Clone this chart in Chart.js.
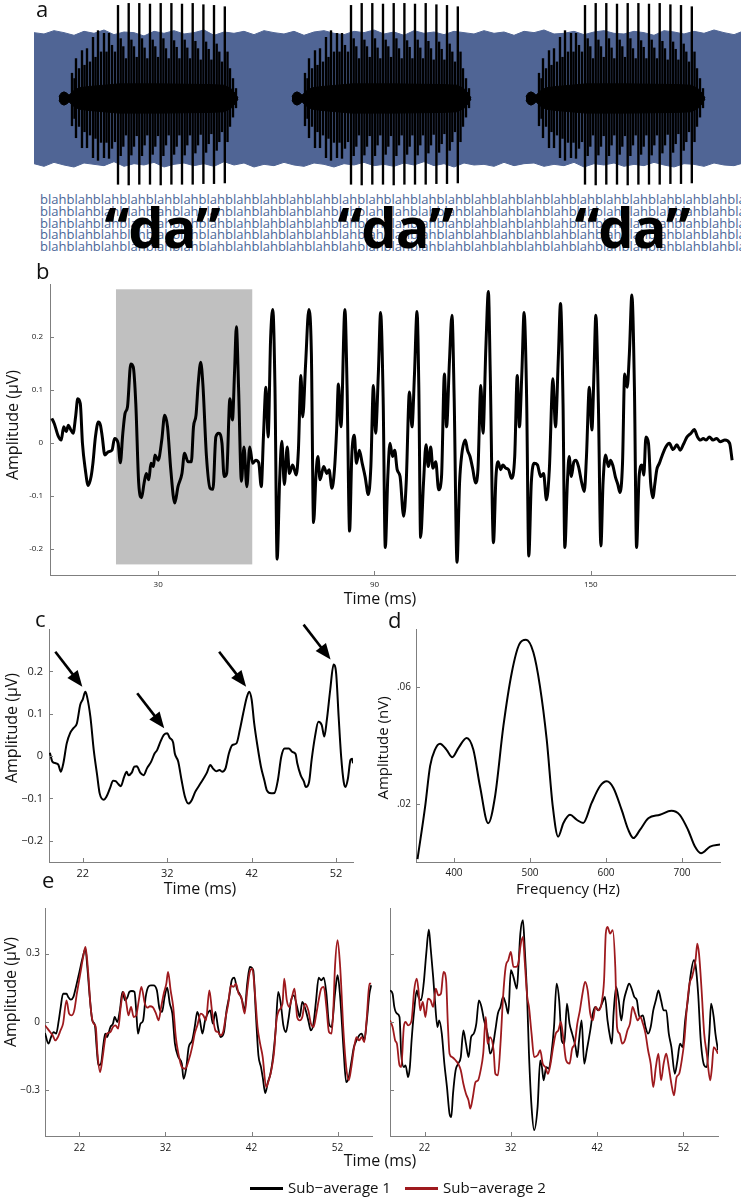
<!DOCTYPE html>
<html><head><meta charset="utf-8">
<script src="https://cdn.jsdelivr.net/npm/chart.js@4.4.1/dist/chart.umd.min.js"></script>
<style>
body{margin:0;background:#fff;}
#fig{position:relative;width:741px;height:1200px;overflow:hidden;font-family:'Open Sans',sans-serif;color:#111;}
.cv{position:absolute;}
.t{position:absolute;white-space:nowrap;line-height:1;}
.lab{font-size:22px;}
.rot{position:absolute;white-space:nowrap;color:#111;transform-origin:50% 50%;}
.ctr{transform:translate(-50%,-50%);}
.blah{position:absolute;left:40px;top:194px;width:701px;overflow:hidden;font-size:13px;line-height:11.8px;color:#4a6698;white-space:nowrap;}
.da{font-size:56px;font-weight:700;color:#000;transform:translateX(-50%);letter-spacing:-1px;}
.lg{position:absolute;height:2.5px;width:33px;}
</style></head><body>
<div id="fig">
  <canvas id="ca" class="cv" style="left:0;top:0" width="741" height="190"></canvas>
  <div class="blah" id="blah"></div>
  <div class="t da" style="left:162px;top:198px">“da”</div>
  <div class="t da" style="left:395px;top:198px">“da”</div>
  <div class="t da" style="left:632px;top:198px">“da”</div>
  <canvas id="cb" class="cv" style="left:0;top:270px" width="741" height="330"></canvas>
  <canvas id="cc" class="cv" style="left:0;top:600px" width="370" height="290"></canvas>
  <canvas id="cd" class="cv" style="left:370px;top:600px" width="371" height="290"></canvas>
  <canvas id="ce1" class="cv" style="left:0;top:890px" width="380" height="280"></canvas>
  <canvas id="ce2" class="cv" style="left:380px;top:890px" width="361" height="280"></canvas>

  <div class="t lab" style="left:36px;top:-3px">a</div>
  <div class="t lab" style="left:36px;top:259px">b</div>
  <div class="t lab" style="left:35px;top:607px">c</div>
  <div class="t lab" style="left:388px;top:608px">d</div>
  <div class="t lab" style="left:42px;top:868px">e</div>

  <div class="rot" data-cx="12" data-cy="425" style="font-size:16px">Amplitude (μV)</div>
  <div class="t ctr" style="left:380px;top:598px;font-size:16px">Time (ms)</div>
  <div class="rot" data-cx="11" data-cy="728" style="font-size:16px">Amplitude (μV)</div>
  <div class="t ctr" style="left:200px;top:888px;font-size:16px">Time (ms)</div>
  <div class="rot" data-cx="382" data-cy="748" style="font-size:15px">Amplitude (nV)</div>
  <div class="t ctr" style="left:568px;top:888px;font-size:15px">Frequency (Hz)</div>
  <div class="rot" data-cx="10" data-cy="992" style="font-size:16px">Amplitude (μV)</div>
  <div class="t ctr" style="left:380px;top:1160px;font-size:16px">Time (ms)</div>

  <div class="lg" style="left:250px;top:1187px;background:#000"></div>
  <div class="t" style="left:288px;top:1180px;font-size:15px">Sub−average 1</div>
  <div class="lg" style="left:405px;top:1187px;background:#9e1a1e"></div>
  <div class="t" style="left:443px;top:1180px;font-size:15px">Sub−average 2</div>
</div>
<script>
// ---------- Panel a: stimulus ("da" in babble) ----------
const NOISE_T = [0,10,20,30,40,50,60,70,80,90,100,110,120,130,140,150,160,170,180,190,200,210,220,230,240,250,260,270,280,290,300,310,320,330,340,350,360,370,380,390,400,410,420,430,440,450,460,470,480,490,500,510,520,530,540,550,560,570,580,590,600,610,620,630,640,650,660,670,680,690,700,707];
const NOISE_UP = [0.99,0.97,1.02,0.99,0.95,1.01,0.98,1.03,0.96,1.00,0.99,0.94,1.01,0.98,1.02,0.97,0.99,1.03,0.95,1.00,0.98,1.01,0.96,1.02,0.99,0.97,1.01,0.95,1.00,1.02,0.98,0.96,1.01,0.99,1.03,0.97,1.00,0.95,1.02,0.98,1.00,0.96,1.01,0.99,0.97,1.02,0.98,1.00,0.95,1.01,0.99,1.03,0.97,0.98,1.01,0.96,1.00,1.02,0.98,0.97,1.01,0.99,0.95,1.02,1.00,0.97,1.01,0.98,1.03,0.99,0.96,1.00];
const NOISE_LO = [-0.98,-1.02,-0.96,-1.00,-1.03,-0.97,-0.99,-1.01,-0.95,-1.02,-0.98,-1.00,-0.96,-1.03,-0.99,-0.97,-1.01,-0.98,-1.02,-0.95,-1.00,-0.97,-1.03,-0.99,-1.01,-0.96,-1.00,-1.02,-0.97,-0.99,-1.03,-0.98,-1.00,-0.96,-1.01,-0.99,-1.02,-0.97,-1.00,-0.95,-1.01,-0.98,-1.03,-0.97,-1.00,-0.99,-1.02,-0.96,-1.01,-0.98,-0.97,-1.02,-0.99,-1.01,-0.96,-1.03,-0.98,-1.00,-0.97,-1.02,-0.99,-1.01,-0.96,-1.00,-1.03,-0.98,-0.99,-1.02,-0.97,-1.00,-1.01,-0.98];
const TOKEN_ONSETS = [25,258,492];
const TOKEN_T = [13,15.5,17,20,23,25.5,28,31,34,36.5,39,42,45,47.5,50,53,56,
 59,61.7,64.3,67,69.7,72.4,75,77.7,80.3,83,85.6,88.3,91,93.7,96.3,99,101.7,104.4,107,109.7,112.4,115.1,117.7,120.4,123,125.7,128.3,131,133.7,136.4,139,141.7,144.4,147.1,149.7,152.4,155,157.7,160.3,163,165.8,168.5,171,174,177];
const TOKEN_TOP = [0.38,0.30,0.60,0.45,0.72,0.50,0.75,0.55,0.92,0.62,1.02,0.70,0.98,0.70,0.98,0.80,0.70,
 1.40,0.90,0.78,0.60,1.43,0.88,0.78,0.62,1.43,0.90,0.76,0.60,1.42,0.88,0.78,0.62,1.43,0.90,0.75,0.60,1.43,0.87,0.77,0.60,1.42,0.88,0.76,0.60,1.43,0.86,0.75,0.58,1.41,0.85,0.74,0.58,1.40,0.82,0.70,0.55,1.38,0.70,0.45,0.30,0.15];
const TOKEN_BOT = [-0.41,-0.30,-0.59,-0.42,-0.74,-0.50,-0.74,-0.55,-0.89,-0.60,-0.93,-0.66,-0.89,-0.66,-0.90,-0.75,-0.65,
 -1.29,-0.86,-0.72,-0.55,-1.30,-0.85,-0.72,-0.56,-1.29,-0.86,-0.70,-0.55,-1.29,-0.84,-0.72,-0.56,-1.30,-0.86,-0.70,-0.55,-1.29,-0.84,-0.72,-0.55,-1.29,-0.85,-0.70,-0.55,-1.29,-0.82,-0.70,-0.54,-1.28,-0.81,-0.68,-0.53,-1.28,-0.78,-0.65,-0.50,-1.27,-0.65,-0.42,-0.28,-0.14];
const CORE_T = [0,2,5,8,10,12,15,20,30,45,60,100,150,165,172,176,179];
const CORE_UP = [0.03,0.08,0.10,0.08,0.05,0.08,0.12,0.16,0.18,0.20,0.22,0.22,0.21,0.20,0.15,0.08,0.01];
const CORE_LO = [-0.03,-0.08,-0.10,-0.08,-0.05,-0.08,-0.12,-0.16,-0.18,-0.20,-0.22,-0.22,-0.21,-0.20,-0.15,-0.08,-0.01];
const BLAH_WORD = 'blah', BLAH_REPEAT = 27, BLAH_ROWS = 5;

// ---------- Panel b: full response ----------
const B_TIME = [0.5,1.2,2.2,3.1,3.8,4.5,5.1,5.8,6.4,7.1,7.7,8.4,9.0,9.8,10.6,11.4,11.9,12.6,13.4,14.0,14.5,15.2,16.2,17.2,17.9,18.9,19.5,20.2,20.8,21.5,22.4,23.1,23.8,24.6,25.4,26.1,26.7,27.4,28.0,28.7,29.1,30.0,31.0,31.8,32.6,33.5,34.6,35.5,36.6,37.3,38.3,39.2,39.8,40.5,41.1,41.8,42.4,43.4,44.4,45.2,46.0,46.8,47.7,48.3,49.0,49.9,50.6,51.2,51.7,52.3,53.1,53.8,54.6,55.4,56.2,57.1,57.9,58.6,59.2,59.9,60.5,61.2,61.8,62.4,63.0,63.7,64.3,65.0,65.8,66.4,67.3,68.3,68.9,69.6,70.1,70.9,71.8,72.5,73.1,73.8,74.3,74.9,75.9,76.8,77.4,78.2,78.9,79.5,80.0,80.7,81.8,82.4,83.1,83.7,84.4,85.0,85.8,86.6,87.4,88.3,89.0,89.7,90.3,91.1,91.7,92.4,93.0,93.7,94.3,95.0,95.6,96.3,97.1,98.1,98.8,99.7,100.4,101.1,101.8,102.3,102.8,103.6,104.3,104.9,105.6,106.2,107.0,107.8,108.6,109.4,110.0,110.8,111.5,112.1,112.9,113.6,114.2,115.2,115.8,116.5,117.3,118.0,118.7,119.5,120.1,120.9,121.6,122.1,123.0,123.7,124.3,125.0,125.6,126.4,127.2,128.0,128.9,129.6,130.2,130.9,131.5,132.2,132.8,133.5,134.3,135.2,136.1,136.9,137.7,138.5,139.5,140.2,141.0,141.6,142.3,142.8,143.5,144.0,144.6,145.3,145.9,146.6,147.5,148.2,148.8,149.6,150.3,150.9,151.4,152.1,152.8,153.4,154.1,154.9,155.5,156.2,156.8,157.5,158.1,158.8,159.4,160.1,160.7,161.4,162.1,162.7,163.4,164.2,164.7,165.3,166.0,166.6,167.2,167.8,168.3,169.0,169.7,170.8,171.8,172.8,173.9,174.8,175.7,176.7,177.8,178.7,179.6,180.4,181.2,182.0,182.9,183.9,184.9,185.9,187.2,188.5,189.2];
const B_AMP = [0.046,0.036,0.014,0.005,0.03,0.021,0.033,0.024,0.018,0.049,0.083,0.074,-0.001,-0.051,-0.081,-0.064,-0.039,0.011,0.039,0.033,0.011,-0.023,-0.017,-0.014,0.008,-0.001,-0.038,0.018,0.055,0.068,0.149,0.143,0.074,-0.076,-0.104,-0.076,-0.058,-0.07,-0.039,-0.045,-0.023,-0.033,0.005,0.052,0.03,-0.051,-0.114,-0.083,-0.058,-0.02,-0.036,-0.036,0.03,0.052,0.111,0.152,0.111,-0.026,-0.086,-0.088,0.011,0.018,-0.001,-0.064,-0.058,0.083,0.043,0.136,0.219,0.105,-0.073,-0.008,-0.083,-0.008,-0.039,-0.033,-0.038,-0.083,0.011,0.105,0.011,0.199,0.252,0.105,-0.22,-0.07,0.003,-0.079,-0.008,-0.058,-0.042,-0.061,-0.014,0.127,0.049,0.149,0.252,0.168,-0.151,-0.058,-0.026,-0.07,-0.045,-0.058,-0.051,-0.086,-0.051,0.024,0.111,0.03,0.252,0.105,-0.167,-0.026,0.014,-0.039,-0.014,-0.039,-0.064,-0.098,-0.045,0.108,0.018,0.136,0.246,0.086,-0.198,-0.064,-0.001,-0.026,-0.014,-0.051,-0.064,-0.139,-0.076,0.096,0.03,0.13,0.248,0.105,-0.179,-0.076,-0.004,-0.045,-0.008,-0.048,-0.036,-0.089,-0.064,0.13,0.03,0.155,0.241,0.086,-0.226,-0.076,-0.023,0.005,-0.014,-0.026,-0.051,-0.076,-0.051,0.108,0.018,0.18,0.286,0.136,-0.189,-0.064,-0.036,-0.051,-0.042,-0.048,-0.051,-0.067,-0.026,0.127,0.03,0.136,0.246,0.086,-0.214,-0.076,-0.039,-0.042,-0.064,-0.058,-0.108,-0.051,0.121,0.03,0.161,0.263,0.074,-0.198,-0.076,-0.026,-0.064,-0.036,-0.033,-0.045,-0.076,-0.092,-0.026,0.105,0.024,0.136,0.241,0.074,-0.195,-0.076,-0.023,-0.045,-0.033,-0.045,-0.064,-0.079,-0.094,-0.039,0.13,0.105,0.168,0.279,0.105,-0.198,-0.064,-0.042,-0.061,0.011,-0.001,-0.076,-0.104,-0.076,-0.051,-0.039,-0.026,-0.008,-0.001,-0.013,-0.004,-0.014,-0.003,0.011,0.018,0.025,0.011,0.005,0.008,0.005,0.011,0.005,0.008,0.002,0.005,-0.001,-0.033];
const B_HIGHLIGHT_T = [18.3, 56.1];
const B_HIGHLIGHT_AMP = [-0.23, 0.29];
const B_XTICKS = [30, 90, 150];
const B_XLABELS = ['30', '90', '150'];
const B_YTICKS = [-0.2, -0.1, 0, 0.1, 0.2];
const B_YLABELS = ['-0.2', '-0.1', '0', '0.1', '0.2'];

// ---------- Panel c: onset portion ----------
const C_TIME = [18.1,18.4,18.8,19.1,19.4,19.7,20.1,20.5,20.9,21.3,21.7,22.0,22.3,22.5,22.9,23.3,23.7,24.0,24.5,24.8,25.2,25.6,25.9,26.2,26.5,26.9,27.2,27.4,27.8,28.1,28.4,28.8,29.2,29.6,30.1,30.5,30.8,31.2,31.6,32.0,32.3,32.7,32.9,33.3,33.7,34.1,34.5,34.9,35.3,35.8,36.3,36.7,37.1,37.4,37.8,38.2,38.5,38.9,39.3,39.7,40.2,40.6,41.0,41.4,41.7,42.0,42.3,42.7,43.1,43.5,43.8,44.3,44.7,45.1,45.5,45.9,46.4,46.8,47.2,47.4,47.8,48.2,48.4,48.8,49.1,49.5,49.9,50.3,50.6,50.9,51.3,51.7,52.0,52.3,52.6,52.9,53.1,53.4,53.7,53.9,54.0];
const C_AMP = [0.008,-0.013,-0.017,-0.02,-0.037,-0.017,0.03,0.054,0.066,0.077,0.121,0.134,0.152,0.141,0.093,0.014,-0.045,-0.088,-0.103,-0.096,-0.077,-0.058,-0.059,-0.066,-0.071,-0.049,-0.037,-0.045,-0.039,-0.025,-0.024,-0.039,-0.045,-0.029,-0.013,0.006,0.014,0.034,0.05,0.054,0.043,0.032,0.006,-0.013,-0.057,-0.096,-0.112,-0.104,-0.085,-0.069,-0.053,-0.039,-0.021,-0.029,-0.036,-0.033,-0.037,-0.029,0.006,0.026,0.03,0.062,0.101,0.137,0.152,0.133,0.077,0.022,-0.025,-0.057,-0.081,-0.088,-0.087,-0.057,-0.002,0.018,0.018,0.01,0.005,-0.017,-0.045,-0.061,-0.073,-0.061,-0.009,0.046,0.081,0.073,0.046,0.085,0.156,0.216,0.196,0.093,-0.002,-0.061,-0.073,-0.053,-0.009,-0.006,-0.017];
const C_ARROW_T = [22.3, 32.0, 41.7, 51.7];
const C_ARROW_AMP = [0.152, 0.054, 0.152, 0.216];
const C_XTICKS = [22, 32, 42, 52];
const C_XLABELS = ['22', '32', '42', '52'];
const C_YTICKS = [-0.2, -0.1, 0, 0.1, 0.2];
const C_YLABELS = ['−0.2', '−0.1', '0', '0.1', '0.2'];

// ---------- Panel d: spectrum ----------
const D_FREQ = [352,362,368.6,375,381.6,390,397.8,405.7,416.7,425.4,434.2,445,454,465,476,486,494.7,504.4,513,522,530,537,544,552.6,561.5,570,581,592,601,609.6,620.6,629.4,636,644.7,655.7,671,686,697,708,717,725,737,750];
const D_AMP = [0.001,0.019,0.033,0.0386,0.0406,0.0386,0.036,0.0391,0.0426,0.0386,0.026,0.0133,0.0225,0.0467,0.065,0.0748,0.0763,0.072,0.0605,0.042,0.019,0.0087,0.0134,0.0162,0.0145,0.0134,0.0202,0.026,0.0277,0.0255,0.0179,0.011,0.0082,0.011,0.015,0.0162,0.0176,0.0162,0.011,0.0053,0.003,0.0053,0.006];
const D_XTICKS = [400, 500, 600, 700];
const D_XLABELS = ['400', '500', '600', '700'];
const D_YTICKS = [0.02, 0.06];
const D_YLABELS = ['.02', '.06'];

// ---------- Panel e: sub-averages ----------
const E_LEFT_S1_T = [18,18.4,18.7,19,19.3,19.6,19.8,20.1,20.5,20.7,21,21.3,21.6,22,22.4,22.7,22.9,23.2,23.5,23.8,24,24.2,24.5,24.8,25,25.2,25.6,25.9,26.1,26.4,26.7,27,27.3,27.6,27.8,28.1,28.4,28.6,28.8,29.1,29.4,29.7,30,30.3,30.6,31,31.3,31.6,31.9,32.2,32.5,32.8,33.1,33.5,33.9,34.1,34.4,34.7,35.1,35.4,35.7,36,36.3,36.6,36.9,37.2,37.5,37.8,38.1,38.4,38.8,39.1,39.4,39.7,40,40.3,40.6,40.9,41.2,41.5,41.8,42.2,42.5,42.8,43.1,43.3,43.6,43.9,44.2,44.5,44.8,45.1,45.4,45.7,46,46.3,46.6,46.9,47.3,47.6,47.9,48.3,48.6,48.9,49.2,49.5,49.8,50.1,50.4,50.7,51,51.3,51.7,52,52.3,52.7,53,53.3,53.6,53.9,54.2,54.5,54.8,55.1,55.4,55.7,55.9];
const E_LEFT_S1 = [-0.048,-0.095,-0.066,-0.044,-0.051,0.007,0.059,0.124,0.124,0.11,0.098,0.11,0.154,0.22,0.286,0.322,0.249,0.11,0.007,-0.015,-0.11,-0.19,-0.183,-0.095,-0.051,-0.066,-0.022,-0.007,0.022,0,0.051,0.132,0.095,0.11,0.132,0.136,0.132,0.051,-0.051,-0.007,0.007,0.11,0.154,0.161,0.161,0.139,0.059,0.044,0.11,0.151,0.081,0.037,-0.095,-0.154,-0.183,-0.249,-0.205,-0.11,-0.081,-0.022,0.044,0.007,-0.051,0.007,0.037,0.051,-0.007,0.044,-0.022,-0.066,-0.044,0.051,0.11,0.183,0.195,0.146,0.124,0.095,0.051,0.168,0.242,0.227,0.037,-0.146,-0.198,-0.242,-0.312,-0.264,-0.227,-0.154,-0.037,0.132,0.081,-0.015,-0.044,0.015,0.095,0.117,0.066,0.022,0.088,0.051,0.007,-0.037,-0.007,0.095,0.195,0.183,0.195,0.124,-0.007,-0.022,0.124,0.205,0.11,-0.124,-0.264,-0.242,-0.176,-0.11,-0.081,-0.059,-0.051,-0.081,0.007,0.124,0.161];
const E_LEFT_S2_T = [18,18.3,18.6,18.9,19.2,19.5,19.8,20.1,20.5,20.8,21.1,21.4,21.7,22.1,22.4,22.7,23,23.3,23.6,23.9,24.1,24.4,24.7,25,25.2,25.6,25.9,26.2,26.5,26.8,27.1,27.4,27.7,28,28.3,28.6,28.9,29.2,29.6,29.9,30.2,30.5,30.9,31.2,31.5,31.8,32.1,32.3,32.6,32.9,33.2,33.5,33.9,34.3,34.7,35.1,35.4,35.7,36.1,36.4,36.7,37.1,37.4,37.8,38.1,38.4,38.7,39,39.3,39.6,39.9,40.2,40.5,40.8,41.2,41.5,41.8,42.1,42.4,42.7,43,43.3,43.7,44,44.3,44.6,44.9,45.2,45.6,45.8,46.1,46.4,46.7,47,47.3,47.6,47.9,48.2,48.6,48.9,49.2,49.5,49.8,50.1,50.4,50.7,51,51.3,51.5,51.7,52,52.3,52.7,53,53.3,53.6,53.9,54.2,54.5,54.8,55.1,55.4,55.7,55.9];
const E_LEFT_S2 = [-0.015,-0.029,-0.044,-0.059,-0.081,-0.066,-0.037,-0.007,0.095,0.037,0.029,0.051,0.124,0.212,0.278,0.329,0.227,0.066,-0.004,-0.022,-0.139,-0.22,-0.154,-0.073,-0.051,-0.044,-0.022,-0.015,-0.029,0.066,0.132,0.095,0.029,0.066,0.022,0.029,0.095,0.154,0.081,0.063,0.069,0.066,0.037,0.007,0.066,0.124,0.168,0.22,0.139,0.066,-0.066,-0.139,-0.198,-0.205,-0.168,-0.11,-0.051,-0.015,0.037,0.029,0.007,0.139,0.051,-0.037,-0.044,-0.059,-0.044,0.022,0.081,0.161,0.154,0.168,0.124,0.11,0.037,0.139,0.22,0.234,0.124,-0.022,-0.095,-0.154,-0.286,-0.256,-0.212,-0.139,0.007,0.051,0.081,0.19,0.095,0.066,0.11,0.146,0.022,0.007,0.022,0.081,0.051,-0.007,-0.022,0.029,0.095,0.146,0.154,0.066,-0.044,-0.051,0.051,0.242,0.359,0.242,-0.051,-0.198,-0.256,-0.198,-0.117,-0.066,-0.081,-0.066,-0.088,0.022,0.168,0.168];
const E_RIGHT_S1_T = [18,18.3,18.5,18.8,19.1,19.3,19.6,19.8,20.1,20.3,20.5,20.8,21.1,21.3,21.6,21.9,22.2,22.5,22.7,23,23.2,23.5,23.7,24,24.3,24.6,24.9,25.1,25.3,25.6,25.9,26.2,26.5,26.8,27.1,27.4,27.7,28,28.3,28.6,28.9,29.3,29.6,29.9,30.2,30.5,30.8,31.1,31.4,31.7,32,32.3,32.7,32.9,33.1,33.4,33.6,33.9,34.1,34.4,34.7,35.1,35.4,35.6,35.8,36.1,36.4,36.7,37,37.3,37.6,37.9,38.2,38.5,38.8,39.1,39.5,39.7,39.9,40.2,40.5,40.8,41.2,41.5,41.8,42.1,42.4,42.7,42.9,43.2,43.5,43.7,43.9,44.2,44.5,44.8,45.1,45.4,45.7,46,46.3,46.6,46.9,47.3,47.6,47.9,48.2,48.5,48.8,49.1,49.4,49.7,50,50.3,50.6,51,51.3,51.6,51.9,52.2,52.5,52.8,53.2,53.4,53.7,54,54.4,54.7,55,55.2,55.5,55.7,56];
const E_RIGHT_S1 = [0.139,0.124,0.066,0.037,0.022,-0.139,-0.198,-0.19,-0.242,-0.198,-0.081,0.051,0.139,0.11,0.095,0.168,0.3,0.405,0.329,0.198,0.095,-0.022,0.007,-0.051,-0.183,-0.286,-0.403,-0.417,-0.315,-0.212,-0.183,-0.154,-0.037,-0.095,-0.154,-0.066,-0.051,-0.007,0.095,0.066,0.007,-0.051,-0.139,-0.11,-0.037,0.037,0.066,0.11,0.081,0.037,0.227,0.198,0.146,0.256,0.388,0.447,0.329,0.095,-0.139,-0.372,-0.474,-0.372,-0.168,-0.198,-0.256,-0.198,-0.205,-0.139,-0.022,0.168,0.095,-0.081,-0.095,0.081,-0.007,-0.051,-0.11,-0.154,-0.081,0.007,-0.183,-0.124,-0.037,0.037,0.066,0.051,0.066,0.095,0.11,0.007,-0.066,-0.095,0.037,0.154,0.095,0.007,0.095,0.139,0.168,0.146,0.11,0.095,0.022,0.029,-0.022,-0.051,-0.022,0.051,0.095,0.139,0.095,0.051,0.051,-0.051,-0.11,-0.227,-0.168,-0.095,-0.11,0.007,0.095,0.198,0.271,0.249,0.124,-0.081,-0.19,-0.198,-0.051,0.081,0.022,-0.051,-0.124];
const E_RIGHT_S2_T = [18,18.3,18.6,18.8,19.1,19.3,19.6,19.8,20.1,20.5,20.8,21.1,21.3,21.5,21.8,22.1,22.4,22.7,23,23.3,23.6,23.9,24.2,24.5,24.7,24.9,25.2,25.6,25.9,26.2,26.5,26.8,27.1,27.3,27.6,27.9,28.2,28.5,28.8,29.1,29.3,29.6,30,30.2,30.5,30.8,31.1,31.4,31.7,32,32.3,32.6,32.9,33.1,33.4,33.6,33.9,34.1,34.4,34.7,35.1,35.4,35.7,36,36.3,36.6,36.9,37.2,37.5,37.8,38.1,38.4,38.8,39.1,39.4,39.7,40,40.3,40.6,40.9,41.2,41.5,41.8,42.2,42.5,42.8,43,43.2,43.5,43.8,44.1,44.3,44.6,44.9,45.2,45.5,45.8,46.1,46.4,46.7,47,47.3,47.6,47.9,48.2,48.5,48.8,49.1,49.4,49.7,50,50.3,50.6,50.9,51.2,51.5,51.8,52.1,52.4,52.7,53,53.4,53.6,53.8,54.1,54.4,54.7,55.1,55.3,55.5,55.8,56];
const E_RIGHT_S2 = [0.007,-0.022,-0.081,-0.095,-0.19,-0.198,-0.022,0,-0.015,0.007,0.139,0.19,0.139,0.051,0.088,0.022,0.102,0.095,0.066,0.146,0.117,0.124,0.22,0.183,-0.007,-0.139,-0.154,-0.168,-0.183,-0.212,-0.271,-0.315,-0.344,-0.38,-0.329,-0.264,-0.256,-0.212,-0.139,0.022,-0.095,-0.066,-0.124,-0.227,-0.234,-0.095,0.11,0.242,0.271,0.307,0.242,0.242,0.264,0.329,0.373,0.271,0.11,0.066,-0.051,-0.154,-0.146,-0.124,-0.183,-0.198,-0.227,-0.183,-0.11,-0.051,-0.037,0,-0.081,-0.168,-0.183,-0.117,-0.095,-0.007,0.051,0.124,0.176,0.139,0.037,0.007,0.066,0.051,0.081,0.183,0.388,0.417,0.388,0.403,0.242,-0.022,-0.051,-0.095,-0.081,-0.037,-0.007,0.066,0.037,0.007,0.022,-0.007,-0.051,-0.124,-0.183,-0.286,-0.198,-0.139,-0.256,-0.183,-0.139,-0.198,-0.271,-0.322,-0.242,-0.227,-0.168,-0.081,0.066,0.168,0.198,0.271,0.344,0.3,0.139,-0.051,-0.139,-0.256,-0.198,-0.11,-0.124,-0.139];
const E_XTICKS = [22, 32, 42, 52];
const E_XLABELS = ['22', '32', '42', '52'];
const E_YTICKS = [-0.3, 0, 0.3];
const E_YLABELS = ['−0.3', '0', '0.3'];
const SERIES_NAMES = ['Sub−average 1', 'Sub−average 2'];

// ---------- styling ----------
const AXIS_COLOR = '#7f7f7f';
const BLUE = '#506595';
const RED = '#9e1a1e';
Chart.defaults.font.family = "'Open Sans', sans-serif";
Chart.defaults.animation = false;

document.getElementById('blah').innerHTML = Array.from({length: BLAH_ROWS}, () => BLAH_WORD.repeat(BLAH_REPEAT)).join('<br>');

// crisp rotated axis titles: even-sized boxes centred on integer points
function placeRotated() {
  document.querySelectorAll('.rot').forEach(el => {
    el.style.width = 'auto';
    const cx = +el.dataset.cx, cy = +el.dataset.cy;
    const w = Math.ceil(el.scrollWidth / 2) * 2 + 2, h = 20;
    Object.assign(el.style, {width: w + 'px', height: h + 'px', lineHeight: h + 'px', textAlign: 'center',
      left: (cx - w / 2) + 'px', top: (cy - h / 2) + 'px', transform: 'rotate(-90deg)'});
  });
}
placeRotated();
if (document.fonts && document.fonts.ready) document.fonts.ready.then(placeRotated);

const pairs = (xs, ys) => xs.map((x, i) => ({x, y: ys[i]}));

const inTicks = {
  id: 'inTicks',
  afterDraw(chart, args, opts) {
    const {ctx, chartArea: a} = chart;
    const xs = chart.scales.x, ys = chart.scales.y, len = opts.len || 4;
    ctx.save(); ctx.strokeStyle = AXIS_COLOR; ctx.lineWidth = 1;
    xs.ticks.forEach(t => { const p = Math.round(xs.getPixelForValue(t.value)) + 0.5; ctx.beginPath(); ctx.moveTo(p, a.bottom); ctx.lineTo(p, a.bottom - len); ctx.stroke(); });
    ys.ticks.forEach(t => { const p = Math.round(ys.getPixelForValue(t.value)) + 0.5; ctx.beginPath(); ctx.moveTo(a.left, p); ctx.lineTo(a.left + len, p); ctx.stroke(); });
    ctx.restore();
  }
};

function xAxis(min, max, ticks, labels, h, pad, size) {
  return {type: 'linear', min, max, offset: false,
    afterBuildTicks: s => { s.ticks = ticks.map(v => ({value: v})); },
    afterFit: s => { s.height = h; },
    grid: {display: false, drawTicks: false},
    border: {display: true, color: AXIS_COLOR, width: 1},
    ticks: {padding: pad, color: '#1a1a1a', font: {size}, maxRotation: 0, autoSkip: false,
      callback: (v, i) => labels[i]}};
}
function yAxis(min, max, ticks, labels, w, pad, size, show = true) {
  return {type: 'linear', min, max,
    afterBuildTicks: s => { s.ticks = ticks.map(v => ({value: v})); },
    afterFit: s => { s.width = w; },
    grid: {display: false, drawTicks: false},
    border: {display: true, color: AXIS_COLOR, width: 1},
    ticks: {display: show, padding: pad, color: '#1a1a1a', font: {size}, autoSkip: false,
      callback: (v, i) => labels[i]}};
}
const basePlugins = {legend: {display: false}, tooltip: {enabled: false}};

// ---------- Chart a ----------
const spikeData = TOKEN_ONSETS.flatMap(o => TOKEN_T.map((t, i) => ({x: o + t, y: [TOKEN_BOT[i], TOKEN_TOP[i]]})));
const coreSets = TOKEN_ONSETS.flatMap(o => [
  {type: 'line', data: CORE_T.map((t, i) => ({x: o + t, y: CORE_UP[i]})), fill: '+1', backgroundColor: '#000', borderColor: '#000', borderWidth: 1, pointRadius: 0, order: 1},
  {type: 'line', data: CORE_T.map((t, i) => ({x: o + t, y: CORE_LO[i]})), fill: false, borderColor: '#000', borderWidth: 1, pointRadius: 0, order: 1}
]);
new Chart(document.getElementById('ca'), {
  type: 'line',
  data: {datasets: [
    {type: 'bar', data: spikeData, backgroundColor: '#000', barThickness: 1.7, grouped: false, order: 0},
    ...coreSets,
    {type: 'line', data: pairs(NOISE_T, NOISE_UP), fill: '+1', backgroundColor: BLUE, borderColor: BLUE, borderWidth: 1, pointRadius: 0, order: 2},
    {type: 'line', data: pairs(NOISE_T, NOISE_LO), fill: false, borderColor: BLUE, borderWidth: 1, pointRadius: 0, order: 2}
  ]},
  options: {responsive: false, layout: {padding: {left: 34, right: 0, top: 0, bottom: 0}},
    scales: {x: {type: 'linear', min: 0, max: 707, display: false, offset: false}, y: {type: 'linear', min: -1.376, max: 1.481, display: false}},
    plugins: basePlugins}
});

// ---------- Chart b ----------
const hlPlugin = {id: 'hl', beforeDatasetsDraw(chart) {
  const {ctx, scales: {x, y}} = chart;
  const x0 = x.getPixelForValue(B_HIGHLIGHT_T[0]), x1 = x.getPixelForValue(B_HIGHLIGHT_T[1]);
  const y0 = y.getPixelForValue(B_HIGHLIGHT_AMP[1]), y1 = y.getPixelForValue(B_HIGHLIGHT_AMP[0]);
  ctx.save(); ctx.fillStyle = '#c0c0c0'; ctx.fillRect(x0, y0, x1 - x0, y1 - y0); ctx.restore();
}};
new Chart(document.getElementById('cb'), {
  type: 'line',
  data: {datasets: [{data: pairs(B_TIME, B_AMP), borderColor: '#000', borderWidth: 3, pointRadius: 0, cubicInterpolationMode: 'monotone', fill: false}]},
  options: {responsive: false, layout: {padding: {top: 14, right: 6, left: 0, bottom: 0}},
    scales: {x: xAxis(0, 190, B_XTICKS, B_XLABELS, 25, 5, 8), y: yAxis(-0.25, 0.3, B_YTICKS, B_YLABELS, 50, 7, 8)},
    plugins: {...basePlugins, inTicks: {len: 4}}},
  plugins: [hlPlugin, inTicks]
});

// ---------- Chart c ----------
const arrowPlugin = {id: 'arrows', afterDatasetsDraw(chart) {
  const {ctx, scales: {x, y}} = chart;
  ctx.save(); ctx.fillStyle = '#000'; ctx.strokeStyle = '#000'; ctx.lineWidth = 2.6;
  C_ARROW_T.forEach((t, i) => {
    const tx = x.getPixelForValue(t) - 3, ty = y.getPixelForValue(C_ARROW_AMP[i]) - 5;
    const dx = -27, dy = -35, L = Math.hypot(dx, dy), ux = -dx / L, uy = -dy / L;
    const hl = 16, hw = 6.5, bx = tx - ux * hl, by = ty - uy * hl;
    ctx.beginPath(); ctx.moveTo(tx + dx, ty + dy); ctx.lineTo(bx + ux * 2, by + uy * 2); ctx.stroke();
    ctx.beginPath(); ctx.moveTo(tx, ty); ctx.lineTo(bx - uy * hw, by + ux * hw); ctx.lineTo(bx + uy * hw, by - ux * hw); ctx.closePath(); ctx.fill();
  });
  ctx.restore();
}};
new Chart(document.getElementById('cc'), {
  type: 'line',
  data: {datasets: [{data: pairs(C_TIME, C_AMP), borderColor: '#000', borderWidth: 2, pointRadius: 0, cubicInterpolationMode: 'monotone', fill: false}]},
  options: {responsive: false, layout: {padding: {top: 29, right: 17, left: 0, bottom: 0}},
    scales: {x: xAxis(18, 54, C_XTICKS, C_XLABELS, 28, 5, 11), y: yAxis(-0.25, 0.3, C_YTICKS, C_YLABELS, 49, 6, 11)},
    plugins: {...basePlugins, inTicks: {len: 4}}},
  plugins: [arrowPlugin, inTicks]
});

// ---------- Chart d ----------
new Chart(document.getElementById('cd'), {
  type: 'line',
  data: {datasets: [{data: pairs(D_FREQ, D_AMP), borderColor: '#000', borderWidth: 2, pointRadius: 0, cubicInterpolationMode: 'monotone', fill: false}]},
  options: {responsive: false, layout: {padding: {top: 29, right: 21, left: 0, bottom: 0}},
    scales: {x: xAxis(350, 750, D_XTICKS, D_XLABELS, 28, 5, 10), y: yAxis(0, 0.08, D_YTICKS, D_YLABELS, 46, 5, 10)},
    plugins: {...basePlugins, inTicks: {len: 4}}},
  plugins: [inTicks]
});

// ---------- Chart e (left, right) ----------
function eChart(id, t1, s1, t2, s2, yw, padR, showY) {
  new Chart(document.getElementById(id), {
    type: 'line',
    data: {datasets: [
      {label: SERIES_NAMES[1], data: pairs(t2, s2), borderColor: RED, borderWidth: 1.8, pointRadius: 0, cubicInterpolationMode: 'monotone', fill: false, order: 0},
      {label: SERIES_NAMES[0], data: pairs(t1, s1), borderColor: '#000', borderWidth: 1.8, pointRadius: 0, cubicInterpolationMode: 'monotone', fill: false, order: 1}
    ]},
    options: {responsive: false, layout: {padding: {top: 18, right: padR, left: 0, bottom: 0}},
      scales: {x: xAxis(18, 56, E_XTICKS, E_XLABELS, 34, 6, 10), y: yAxis(-0.5, 0.5, E_YTICKS, E_YLABELS, yw, 5, 10, showY)},
      plugins: {...basePlugins, inTicks: {len: 4}}},
    plugins: [inTicks]
  });
}
eChart('ce1', E_LEFT_S1_T, E_LEFT_S1, E_LEFT_S2_T, E_LEFT_S2, 45, 8, true);
eChart('ce2', E_RIGHT_S1_T, E_RIGHT_S1, E_RIGHT_S2_T, E_RIGHT_S2, 10, 23, false);
</script>
</body></html>
